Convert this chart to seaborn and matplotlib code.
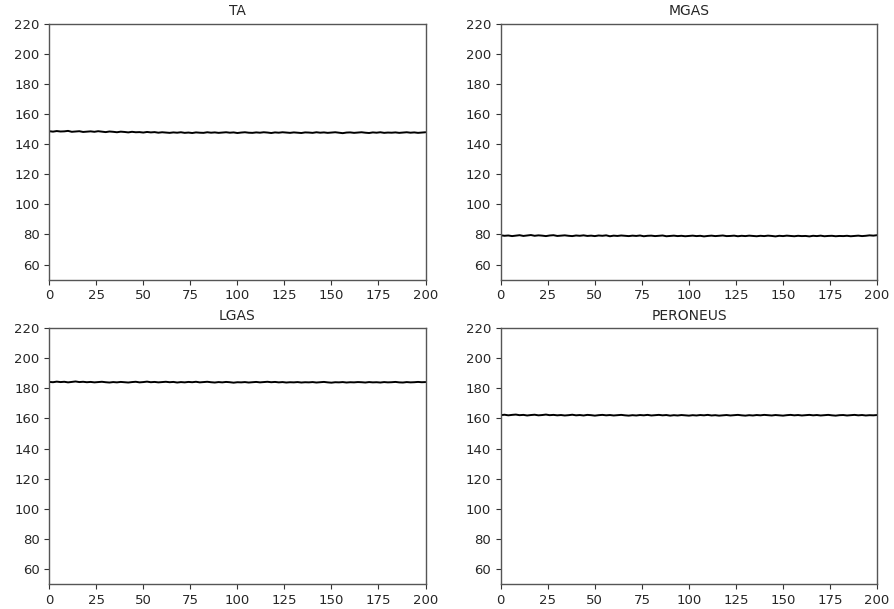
import numpy as np
import pandas as pd
import matplotlib
matplotlib.use("Agg")
import matplotlib.pyplot as plt
import seaborn as sns

titles = ["TA", "MGAS", "LGAS", "PERONEUS"]
x_ticks = [0, 25, 50, 75, 100, 125, 150, 175, 200]
y_ticks = [60, 80, 100, 120, 140, 160, 180, 200, 220]

ta = [148.6, 148.3, 148.7, 148.4, 148.5, 148.8, 148.2, 148.4, 148.6, 148.1,
      148.3, 148.5, 148.2, 148.6, 148.3, 148.0, 148.4, 148.2, 147.9, 148.3,
      148.1, 147.8, 148.2, 147.9, 148.0, 147.7, 148.1, 147.8, 148.0, 147.6,
      147.9, 147.7, 147.5, 147.8, 147.6, 147.9, 147.5, 147.7, 147.4, 147.8,
      147.6, 147.5, 147.9, 147.6, 147.8, 147.5, 147.7, 147.9, 147.6, 147.8,
      147.4, 147.7, 147.9, 147.6, 147.5, 147.8, 147.6, 147.9, 147.7, 147.4,
      147.8, 147.6, 147.9, 147.7, 147.5, 147.8, 147.6, 147.4, 147.8, 147.7,
      147.5, 147.9, 147.6, 147.8, 147.5, 147.7, 147.9, 147.6, 147.3, 147.7,
      147.8, 147.5, 147.7, 147.9, 147.6, 147.4, 147.8, 147.6, 147.9, 147.5,
      147.7, 147.6, 147.8, 147.5, 147.7, 147.9, 147.6, 147.8, 147.5, 147.7,
      147.9]
mgas = [79.4, 79.1, 79.3, 78.9, 79.2, 79.5, 79.0, 79.3, 79.6, 79.1,
        79.4, 79.2, 78.9, 79.3, 79.5, 79.0, 79.2, 79.4, 79.1, 78.9,
        79.3, 79.1, 79.4, 79.0, 79.2, 78.9, 79.3, 79.1, 79.4, 78.8,
        79.2, 79.0, 79.3, 79.1, 78.9, 79.2, 79.0, 79.3, 78.8, 79.1,
        79.2, 78.9, 79.1, 79.3, 78.8, 79.0, 79.2, 78.9, 79.1, 78.8,
        79.0, 79.2, 78.9, 79.1, 78.7, 79.0, 79.2, 78.9, 79.1, 79.3,
        78.9, 79.0, 79.2, 78.8, 79.1, 78.9, 79.2, 79.0, 78.8, 79.1,
        78.9, 79.2, 79.0, 78.7, 79.1, 78.9, 79.2, 79.0, 78.8, 79.1,
        78.9, 79.0, 78.7, 79.1, 78.9, 79.2, 78.8, 79.0, 79.1, 78.8,
        79.0, 78.9, 79.1, 78.8, 79.0, 79.2, 78.9, 79.1, 79.4, 79.2,
        79.5]
lgas = [184.3, 184.1, 184.5, 184.2, 184.4, 184.0, 184.3, 184.6, 184.2, 184.4,
        184.1, 184.3, 184.0, 184.2, 184.4, 184.1, 183.9, 184.2, 184.0, 184.3,
        184.1, 183.9, 184.2, 184.4, 184.0, 184.2, 184.5, 184.1, 184.3, 184.0,
        184.2, 184.4, 184.1, 184.3, 183.9, 184.2, 184.0, 184.3, 184.1, 184.4,
        184.0, 184.2, 184.4, 184.1, 183.9, 184.2, 184.0, 184.3, 184.1, 183.8,
        184.1, 184.0, 184.2, 183.9, 184.1, 184.3, 184.0, 184.2, 184.4, 184.1,
        184.3, 184.0, 184.2, 183.9, 184.1, 184.0, 184.2, 183.9, 184.1, 184.0,
        184.2, 183.9, 184.1, 184.3, 184.0, 183.8, 184.1, 184.0, 184.2, 183.9,
        184.1, 184.0, 184.2, 184.1, 183.9, 184.2, 184.0, 184.1, 183.9, 184.2,
        184.0, 184.1, 184.3, 184.0, 183.9, 184.2, 184.0, 184.1, 184.3, 184.1,
        184.2]
peroneus = [162.2, 162.5, 162.1, 162.4, 162.6, 162.2, 162.4, 162.0, 162.3, 162.5,
            162.1, 162.3, 162.6, 162.2, 162.4, 162.1, 162.3, 162.0, 162.2, 162.5,
            162.1, 162.3, 162.0, 162.4, 162.2, 161.9, 162.2, 162.4, 162.1, 162.3,
            162.0, 162.2, 162.4, 162.1, 161.9, 162.2, 162.0, 162.3, 162.1, 162.4,
            162.0, 162.2, 162.4, 162.1, 162.3, 161.9, 162.2, 162.0, 162.3, 162.1,
            161.9, 162.2, 162.0, 162.3, 162.1, 162.4, 162.0, 162.2, 161.9, 162.1,
            162.3, 162.0, 162.2, 162.4, 162.1, 161.9, 162.2, 162.0, 162.3, 162.1,
            162.4, 162.2, 162.0, 162.3, 162.1, 161.9, 162.2, 162.4, 162.1, 162.3,
            162.0, 162.2, 162.4, 162.1, 162.3, 162.0, 162.2, 162.4, 162.1, 161.9,
            162.2, 162.3, 162.0, 162.2, 162.4, 162.1, 162.3, 162.0, 162.2, 162.1,
            162.3]

series = [ta, mgas, lgas, peroneus]

sns.set_style("ticks")
plt.rcParams["font.family"] = ["DejaVu Sans"]

fig, axes = plt.subplots(2, 2, figsize=(8.95, 6.09), dpi=100)
fig.subplots_adjust(left=0.055, right=0.98, top=0.961, bottom=0.041, hspace=0.19, wspace=0.2)

for ax, title, vals in zip(axes.flat, titles, series):
    xs = np.linspace(0, 200, len(vals))
    df = pd.DataFrame({"x": xs, "y": vals})
    sns.lineplot(data=df, x="x", y="y", ax=ax, color="black", linewidth=1.4)
    ax.set_xlim(0, 200)
    ax.set_ylim(50, 220)
    ax.set_xticks(x_ticks)
    ax.set_yticks(y_ticks)
    ax.set_xlabel("")
    ax.set_ylabel("")
    ax.set_title(title, fontsize=10, pad=6)
    ax.tick_params(labelsize=9.5, length=3.5, color="#333333")
    for s in ax.spines.values():
        s.set_visible(True)
        s.set_color("#555555")
        s.set_linewidth(1.0)

fig.savefig("out.png", dpi=100)
